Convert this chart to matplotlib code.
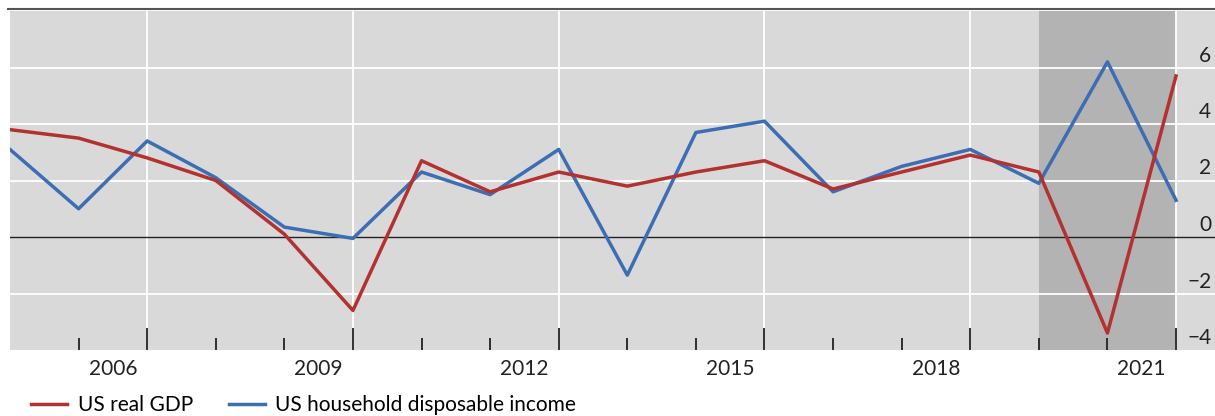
import numpy as np
import matplotlib
matplotlib.use("Agg")
import matplotlib.pyplot as plt
import matplotlib.transforms as mtransforms

plt.rcParams['font.family'] = ['Lato', 'DejaVu Sans']

years = list(range(2004, 2022))
gdp = [3.8, 3.5, 2.8, 2.0, 0.1, -2.6, 2.7, 1.6, 2.3, 1.8, 2.3, 2.7, 1.7, 2.3, 2.9, 2.3, -3.4, 5.7]
income = [3.1, 1.0, 3.4, 2.1, 0.35, -0.05, 2.3, 1.5, 3.1, -1.35, 3.7, 4.1, 1.6, 2.5, 3.1, 1.9, 6.2, 1.3]
major_years = [2006, 2009, 2012, 2015, 2018, 2021]
minor_years = [y for y in years[1:] if y not in major_years]
y_ticks = [-4, -2, 0, 2, 4, 6]
y_labels = ['\u22124', '\u22122', '0', '2', '4', '6']

red = '#b3312f'
blue = '#3d6db3'
fs = 15

fig = plt.figure(figsize=(12.15, 4.16), dpi=100)
ax = fig.add_axes([10 / 1215, 1 - 350 / 416, 1 - 10 / 1215, (350 - 11) / 416])
ax.set_facecolor('#d9d9d9')
ax.set_xlim(2004, 2004 + 1205 / 68.59)
ax.set_ylim(-4, 8)

# shaded period
ax.axvspan(2019, 2021, color='#b3b3b3', zorder=0.2, lw=0)

ax.set_axisbelow(True)
ax.set_yticks([-2, 2, 4, 6])
ax.set_xticks(major_years)
ax.set_xticks(minor_years, minor=True)
ax.grid(True, which='major', color='white', lw=1.3)
ax.tick_params(axis='y', length=0, labelleft=False)
ax.tick_params(axis='x', which='major', direction='in', length=16, width=1.3,
               color='#222222', labelbottom=False)
ax.tick_params(axis='x', which='minor', direction='in', length=8.5, width=1.3,
               color='#222222', labelbottom=False)
ax.axhline(0, color='#222222', lw=1, zorder=1.5)

for s in ax.spines.values():
    s.set_visible(False)

ax.plot(years, gdp, color=red, lw=2.5, label='US real GDP', zorder=3)
ax.plot(years, income, color=blue, lw=2.5, label='US household disposable income', zorder=2.9)

# year labels centred in each year interval
xt = mtransforms.blended_transform_factory(ax.transData, ax.transAxes)
for y in major_years:
    ax.text(y - 0.5, -0.055, str(y), transform=xt, ha='center', va='center',
            fontsize=fs, color='#222222')

# y labels on the right, sitting above their gridlines
yt = mtransforms.blended_transform_factory(ax.transAxes, ax.transData)
off = mtransforms.ScaledTranslation(0, 12 / 100, fig.dpi_scale_trans)
for v, lab in zip(y_ticks, y_labels):
    ax.text(0.997, v, lab, transform=yt + off, ha='right', va='center',
            fontsize=fs, color='#222222')

# top rule
fig.add_artist(plt.Line2D([8 / 1215, 1], [1 - 8.5 / 416] * 2, color='#555555', lw=1.5))

fig.legend(loc='center left', bbox_to_anchor=(31 / 1215, 1 - 405 / 416), ncol=2,
           frameon=False, fontsize=fs, handlelength=1.75, handletextpad=0.5,
           columnspacing=1.7, borderaxespad=0, borderpad=0)

fig.savefig('out.png', dpi=100)
